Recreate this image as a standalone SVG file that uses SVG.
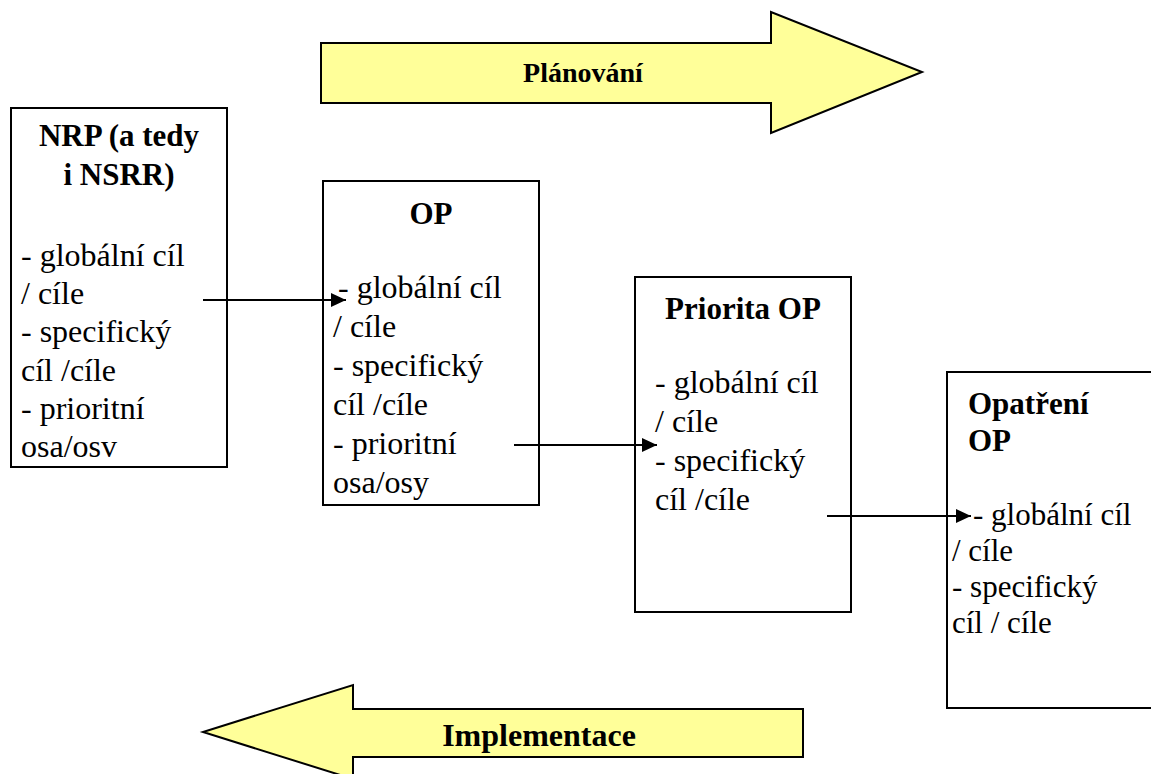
<svg xmlns="http://www.w3.org/2000/svg" width="1151" height="774" viewBox="0 0 1151 774">
<defs>
<marker id="ah" markerWidth="16" markerHeight="14" refX="15" refY="7" orient="auto" markerUnits="userSpaceOnUse">
<path d="M0,0 L15,7 L0,14 Z" fill="#000"/>
</marker>
<style>
.box{fill:#fff;stroke:#000;stroke-width:2}
.big{fill:#FFFF99;stroke:#000;stroke-width:2;stroke-linejoin:miter}
.t{font-family:"Liberation Serif","Times New Roman",serif;font-size:32px;fill:#000}
.tr{font-family:"Liberation Serif","Times New Roman",serif;font-size:31px;fill:#000}
.h{font-family:"Liberation Serif","Times New Roman",serif;font-size:31px;font-weight:bold;fill:#000}
.c{text-anchor:middle}
.conn{stroke:#000;stroke-width:2;fill:none}
</style>
</defs>
<rect width="1151" height="774" fill="#fff"/>

<g id="planovani">
<path class="big" d="M321,43 L771,43 L771,12 L922,72 L771,133 L771,103 L321,103 Z"/>
<text class="h c" x="583" y="82" style="font-size:28px">Plánování</text>
</g>

<g id="implementace">
<path class="big" d="M803,709 L353,709 L353,685 L203,732 L353,779 L353,757 L803,757 Z"/>
<text class="h c" x="539" y="746" style="font-size:32px">Implementace</text>
</g>

<g id="nrp">
<rect class="box" x="11" y="108" width="216" height="359"/>
<text class="h c" x="119" y="146">NRP (a tedy</text>
<text class="h c" x="119" y="185">i NSRR)</text>
<text class="t" x="21" y="266">- globální cíl</text>
<text class="t" x="21" y="304">/ cíle</text>
<text class="t" x="21" y="342">- specifický</text>
<text class="t" x="21" y="381">cíl /cíle</text>
<text class="t" x="21" y="419">- prioritní</text>
<text class="t" x="21" y="457">osa/osv</text>
</g>

<g id="op">
<rect class="box" x="323" y="181" width="216" height="324"/>
<text class="h c" x="431" y="224">OP</text>
<text class="t" x="338" y="298">- globální cíl</text>
<text class="t" x="333" y="337">/ cíle</text>
<text class="t" x="333" y="376">- specifický</text>
<text class="t" x="333" y="415">cíl /cíle</text>
<text class="t" x="333" y="454">- prioritní</text>
<text class="t" x="333" y="493">osa/osy</text>
</g>

<g id="priorita">
<rect class="box" x="635" y="277" width="216" height="335"/>
<text class="h c" x="743" y="319">Priorita OP</text>
<text class="t" x="655" y="393">- globální cíl</text>
<text class="t" x="655" y="432">/ cíle</text>
<text class="t" x="655" y="471">- specifický</text>
<text class="t" x="655" y="510">cíl /cíle</text>
</g>

<g id="opatreni">
<rect class="box" x="947" y="372" width="220" height="336"/>
<text class="h" x="968" y="414">Opatření</text>
<text class="h" x="968" y="451">OP</text>
<text class="tr" x="973" y="525">- globální cíl</text>
<text class="tr" x="952" y="561">/ cíle</text>
<text class="tr" x="952" y="597">- specifický</text>
<text class="tr" x="952" y="633">cíl / cíle</text>
</g>

<g id="connectors">
<line class="conn" x1="203" y1="300" x2="346" y2="300" marker-end="url(#ah)"/>
<line class="conn" x1="514" y1="445" x2="657" y2="445" marker-end="url(#ah)"/>
<line class="conn" x1="827" y1="516" x2="971" y2="516" marker-end="url(#ah)"/>
</g>
</svg>
